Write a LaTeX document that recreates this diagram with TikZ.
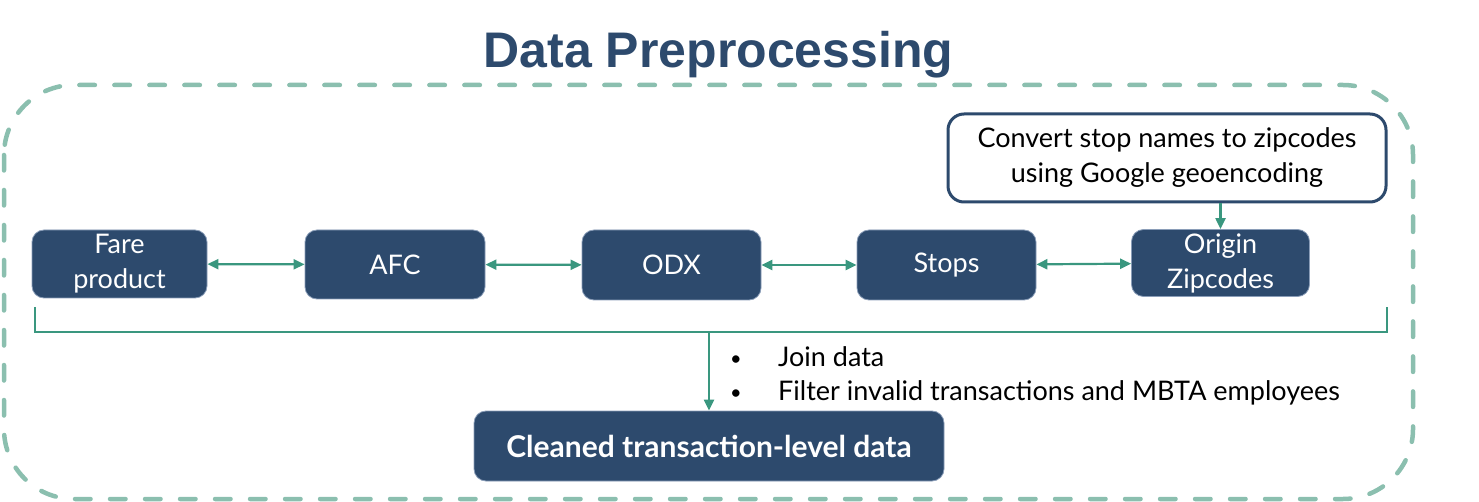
\documentclass[tikz,border=0pt]{standalone}
\usepackage{fontspec}
\setmainfont{Lato}
\newfontfamily\titlefont{Liberation Sans}
\usetikzlibrary{arrows.meta}
\definecolor{navy}{HTML}{2D4A6D}
\definecolor{navyedge}{HTML}{8A9DB8}
\definecolor{teal}{HTML}{3A977F}
\definecolor{paleteal}{HTML}{8BBFAF}
\newcommand{\dotmark}{\makebox[48pt][l]{\raisebox{1pt}{\fontsize{20}{20}\selectfont\textbullet}}}
\begin{document}
\begin{tikzpicture}[x=1pt,y=-1pt,
  block/.style={draw=navyedge, line width=0.8pt, fill=navy, rounded corners=12pt,
    text=white, align=center, font=\fontsize{27}{35}\selectfont, inner sep=0pt},
  note/.style={draw=navy, line width=3pt, fill=white, rounded corners=16pt,
    text=black, align=center, font=\fontsize{27}{35}\selectfont, inner sep=0pt},
  link/.style={draw=teal, line width=2.2pt, >={Triangle[length=11pt,width=10pt]}},
  item/.style={anchor=west, font=\fontsize{27}{35}\selectfont, inner sep=0pt}]
\useasboundingbox (0,0) rectangle (1479,502);

\node[anchor=base, text=navy, font=\titlefont\bfseries\fontsize{50}{60}\selectfont] (title) at (718.5,68) {Data Preprocessing};

% frame
\draw[paleteal, line width=4.5pt, line cap=round, dash pattern=on 15.5pt off 19.5pt, rounded corners=70pt] (4,85) rectangle (1413,499);

\node[block, minimum width=175pt, minimum height=68pt] (fare) at (119.5,264) {Fare\\product};
\node[block, minimum width=180pt, minimum height=69pt] (afc) at (395,264.5) {AFC};
\node[block, minimum width=179pt, minimum height=70pt] (odx) at (671.5,265) {ODX};
\node[block, minimum width=179pt, minimum height=70pt] (stops) at (946.5,265) {Stops};
\node[block, minimum width=178pt, minimum height=67pt] (orig) at (1220.5,263) {Origin\\Zipcodes};

\node[note, minimum width=438pt, minimum height=88pt] (conv) at (1167,158) {Convert stop names to zipcodes\\using Google geoencoding};

\node[block, minimum width=470pt, minimum height=70pt, font=\bfseries\fontsize{30}{35}\selectfont] (clean) at (709,446) {Cleaned transaction-level data};

\node[item] (join) at (730,357) {\dotmark Join data};
\node[item] (filter) at (730,393) {\dotmark Filter invalid transactions and MBTA employees};

\path[link,<->] (fare) -- (afc);
\path[link,<->] (afc) -- (odx);
\path[link,<->] (odx) -- (stops);
\path[link,<->] (stops) -- (orig);

\path[link,->] (orig.north |- conv.south) -- (orig.north);

\coordinate (bl) at (35,307);
\coordinate (br) at (1387,307);
\coordinate (brk) at (709,332);
\path[draw=teal, line width=2.2pt] (bl) |- (brk) -| (br);
\path[link,->] (brk) -- (clean.north);

\end{tikzpicture}
\end{document}
